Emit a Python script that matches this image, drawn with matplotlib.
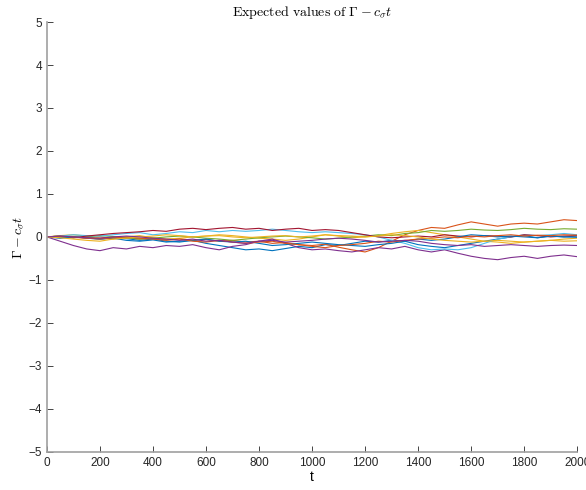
import numpy as np
import matplotlib
matplotlib.use('Agg')
import matplotlib.pyplot as plt

plt.rcParams['font.family'] = ['Liberation Sans', 'DejaVu Sans']
plt.rcParams['mathtext.fontset'] = 'cm'

# sample times, every 50 steps
t = np.arange(0, 2001, 50)

# trajectories of Gamma - c_sigma t (one per run)
run1 = [0, -0.02, 0.01, -0.03, -0.05, -0.02, -0.04, -0.08, -0.05, -0.1, -0.12, -0.08, -0.15, -0.2,
        -0.25, -0.3, -0.28, -0.32, -0.27, -0.22, -0.25, -0.18, -0.2, -0.15, -0.1, -0.12, -0.08, -0.1,
        -0.18, -0.22, -0.25, -0.2, -0.15, -0.1, -0.05, 0.0, 0.03, -0.02, 0.02, 0.0, 0.02]
run2 = [0, 0.02, -0.01, -0.03, 0.0, -0.04, -0.02, -0.05, -0.03, -0.06, -0.04, -0.08, -0.06, -0.1,
        -0.08, -0.12, -0.1, -0.15, -0.13, -0.18, -0.2, -0.17, -0.24, -0.3, -0.35, -0.25, -0.1, 0.05,
        0.15, 0.22, 0.2, 0.28, 0.35, 0.3, 0.25, 0.3, 0.32, 0.3, 0.35, 0.4, 0.38]
run3 = [0, 0.03, 0.05, 0.02, -0.03, -0.05, 0.0, 0.03, -0.02, -0.05, -0.03, 0.0, 0.02, 0.05,
        0.03, 0.0, -0.03, -0.05, -0.08, -0.05, 0.0, 0.05, 0.02, -0.02, 0.0, 0.03, 0.08, 0.12,
        0.15, 0.1, 0.05, 0.0, -0.05, -0.1, -0.12, -0.15, -0.12, -0.1, -0.08, -0.05, -0.03]
run4 = [0, -0.1, -0.2, -0.28, -0.32, -0.25, -0.28, -0.22, -0.25, -0.2, -0.22, -0.18, -0.25, -0.3,
        -0.22, -0.18, -0.1, -0.05, -0.15, -0.25, -0.3, -0.28, -0.32, -0.35, -0.3, -0.25, -0.28, -0.22,
        -0.3, -0.35, -0.3, -0.38, -0.45, -0.5, -0.53, -0.48, -0.45, -0.5, -0.45, -0.42, -0.46]
run5 = [0, 0.02, -0.02, 0.0, 0.03, 0.01, -0.02, -0.05, -0.03, 0.0, 0.02, 0.0, -0.03, -0.05,
        -0.08, -0.05, -0.02, 0.0, 0.02, 0.0, -0.02, -0.05, -0.03, 0.0, 0.02, 0.05, 0.03, 0.08,
        0.1, 0.15, 0.13, 0.15, 0.18, 0.16, 0.15, 0.17, 0.2, 0.18, 0.17, 0.19, 0.18]
run6 = [0, 0.02, 0.05, 0.03, 0.02, 0.05, 0.08, 0.1, 0.05, 0.08, 0.12, 0.1, 0.15, 0.12,
        0.15, 0.13, 0.15, 0.18, 0.15, 0.12, 0.1, 0.12, 0.1, 0.08, 0.05, 0.0, -0.08, -0.15,
        -0.25, -0.3, -0.28, -0.3, -0.25, -0.15, -0.05, 0.0, 0.05, 0.03, 0.05, 0.08, 0.05]
run7 = [0, 0.0, -0.02, 0.02, 0.05, 0.08, 0.1, 0.12, 0.15, 0.13, 0.18, 0.2, 0.17, 0.2,
        0.22, 0.18, 0.2, 0.15, 0.18, 0.2, 0.15, 0.17, 0.15, 0.1, 0.05, 0.0, -0.02, 0.0,
        0.02, 0.0, 0.05, 0.02, 0.0, 0.03, 0.02, 0.0, 0.05, 0.03, 0.0, 0.02, 0.03]
run8 = [0, -0.03, 0.0, -0.02, -0.05, -0.03, -0.08, -0.1, -0.07, -0.12, -0.1, -0.08, -0.05, -0.1,
        -0.12, -0.1, -0.15, -0.2, -0.18, -0.15, -0.12, -0.15, -0.18, -0.2, -0.22, -0.18, -0.15, -0.1,
        -0.05, -0.08, -0.05, 0.0, 0.05, 0.03, 0.0, 0.02, 0.0, -0.02, 0.02, 0.0, -0.01]
run9 = [0, 0.02, 0.0, -0.03, -0.05, -0.02, 0.0, -0.03, -0.05, -0.08, -0.05, -0.1, -0.12, -0.08,
        -0.12, -0.15, -0.12, -0.1, -0.15, -0.18, -0.22, -0.25, -0.2, -0.18, -0.15, -0.1, -0.12, -0.08,
        -0.05, -0.03, 0.0, -0.02, 0.02, 0.0, 0.03, 0.05, 0.02, 0.04, 0.03, 0.05, 0.04]
run10 = [0, -0.02, -0.05, -0.08, -0.1, -0.05, -0.03, 0.0, 0.02, 0.05, 0.03, 0.0, 0.02, 0.03,
         0.0, -0.02, 0.0, 0.02, 0.03, 0.0, 0.02, 0.05, 0.03, 0.02, 0.0, 0.02, 0.05, 0.03,
         0.0, -0.05, -0.08, -0.1, -0.12, -0.1, -0.08, -0.1, -0.12, -0.1, -0.08, -0.1, -0.09]
run11 = [0, 0.02, 0.0, -0.02, -0.03, 0.0, 0.02, 0.0, -0.03, -0.05, -0.08, -0.05, -0.1, -0.08,
         -0.12, -0.15, -0.1, -0.08, -0.12, -0.1, -0.08, -0.05, -0.03, -0.05, -0.08, -0.12, -0.1, -0.08,
         -0.1, -0.15, -0.18, -0.2, -0.18, -0.22, -0.2, -0.18, -0.2, -0.22, -0.2, -0.19, -0.2]

runs = [run1, run2, run3, run4, run5, run6, run7, run8, run9, run10, run11]

# default matlab line colour order
colors = ['#0072BD', '#D95319', '#EDB120', '#7E2F8E', '#77AC30', '#4DBEEE', '#A2142F']

fig = plt.figure(figsize=(5.86, 4.9), dpi=100)
ax = fig.add_axes([0.080, 0.078, 0.905, 0.877])

for i, r in enumerate(runs):
    ax.plot(t, r, color=colors[i % len(colors)], lw=0.8)

ax.set_xlim(0, 2000)
ax.set_ylim(-5, 5)
ax.set_xticks(np.arange(0, 2001, 200))
ax.set_yticks(np.arange(-5, 6, 1))
ax.tick_params(direction='in', length=4, labelsize=8.5, colors='#262626', width=0.6)
for s in ['top', 'right']:
    ax.spines[s].set_visible(False)
for s in ['left', 'bottom']:
    ax.spines[s].set_color('#a0a0a0')
    ax.spines[s].set_linewidth(1.2)

ax.set_title(r'$\mathrm{Expected\ values\ of}\ \Gamma - c_\sigma t$', fontsize=10, pad=4)
ax.set_ylabel(r'$\Gamma - c_\sigma t$', fontsize=10, labelpad=2)
ax.set_xlabel('t', fontsize=10, labelpad=1)

fig.savefig('out.png', dpi=100)
